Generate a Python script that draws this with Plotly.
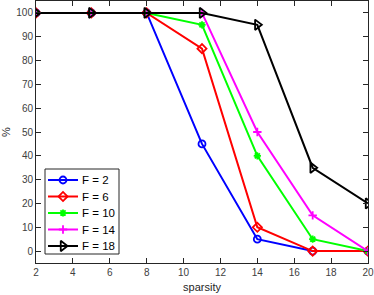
import plotly.graph_objects as go

sparsity = [2, 5, 8, 11, 14, 17, 20]
f2 = [100, 100, 100, 45, 5, 0, 0]
f6 = [100, 100, 100, 85, 10, 0, 0]
f10 = [100, 100, 100, 95, 40, 5, 0]
f14 = [100, 100, 100, 100, 50, 15, 0]
f18 = [100, 100, 100, 100, 95, 35, 20]
names = ["F = 2", "F = 6", "F = 10", "F = 14", "F = 18"]
colors = ["#0000ff", "#ff0000", "#00ff00", "#ff00ff", "#000000"]
symbols = ["circle-open", "diamond-open", "asterisk-open", "cross-thin-open", "triangle-right-open"]
sizes = [7, 7, 6, 6, 9]
series = [f2, f6, f10, f14, f18]

W, H = 374, 295
ML, MR, MT, MB = 36, 6, 1, 32
PW, PH = W - ML - MR, H - MT - MB


def px(x):
    return (x - ML) / PW


def py(y):
    return (H - MB - y) / PH


fig = go.Figure()
for name, ys, c, s, sz in zip(names, series, colors, symbols, sizes):
    fig.add_trace(go.Scatter(
        x=sparsity, y=ys, name=name, mode="lines+markers",
        line=dict(color=c, width=2),
        marker=dict(symbol=s, size=sz, color=c, line=dict(color=c, width=1.8)),
        showlegend=False,
    ))

# legend box (MATLAB-style), drawn on an overlay axis in plot-fraction units
box_l, box_r, box_t, box_b = 45, 119, 169, 254
row_y = [180, 196.5, 213, 229.5, 246]
fig.add_shape(type="rect", xref="paper", yref="paper",
              x0=px(box_l), x1=px(box_r), y0=py(box_b), y1=py(box_t),
              line=dict(color="#262626", width=1), fillcolor="white", layer="below")
for name, c, s, sz, ry in zip(names, colors, symbols, sizes, row_y):
    fig.add_trace(go.Scatter(
        x=[px(48), px(63), px(78)], y=[py(ry)] * 3, xaxis="x2", yaxis="y2",
        mode="lines", line=dict(color=c, width=2), showlegend=False, hoverinfo="skip",
    ))
    fig.add_trace(go.Scatter(
        x=[px(63)], y=[py(ry)], xaxis="x2", yaxis="y2",
        mode="markers", marker=dict(symbol=s, size=sz, color=c, line=dict(color=c, width=1.8)),
        showlegend=False, hoverinfo="skip",
    ))
    fig.add_annotation(x=px(80), y=py(ry), xref="paper", yref="paper",
                       text=name, showarrow=False, xanchor="left", yanchor="middle",
                       font=dict(size=11.5, color="#000000"))

axis_common = dict(
    showline=True, linecolor="#262626", linewidth=1, mirror="ticks",
    ticks="inside", ticklen=5, tickcolor="#262626", tickwidth=1,
    showgrid=False, zeroline=False,
    tickfont=dict(family="Liberation Sans, Arial, sans-serif", size=10, color="#404040"),
)

fig.update_layout(
    width=W, height=H,
    margin=dict(l=ML, r=MR, t=MT, b=MB),
    plot_bgcolor="white", paper_bgcolor="white",
    font=dict(family="Liberation Sans, Arial, sans-serif", color="#262626"),
    xaxis=dict(range=[2, 20], tickvals=list(range(2, 21, 2)),
               title=dict(text="sparsity", font=dict(size=11, color="#262626"), standoff=6),
               **axis_common),
    yaxis=dict(range=[-5, 105], tickvals=list(range(0, 101, 10)),
               title=dict(text="%", font=dict(size=11, color="#262626"), standoff=6),
               **axis_common),
    xaxis2=dict(overlaying="x", range=[0, 1], visible=False, fixedrange=True),
    yaxis2=dict(overlaying="y", range=[0, 1], visible=False, fixedrange=True),
    showlegend=False,
)

fig.write_html("out.html", config={"displayModeBar": False},
               post_script="document.body.style.margin='0';document.body.style.padding='0';")
